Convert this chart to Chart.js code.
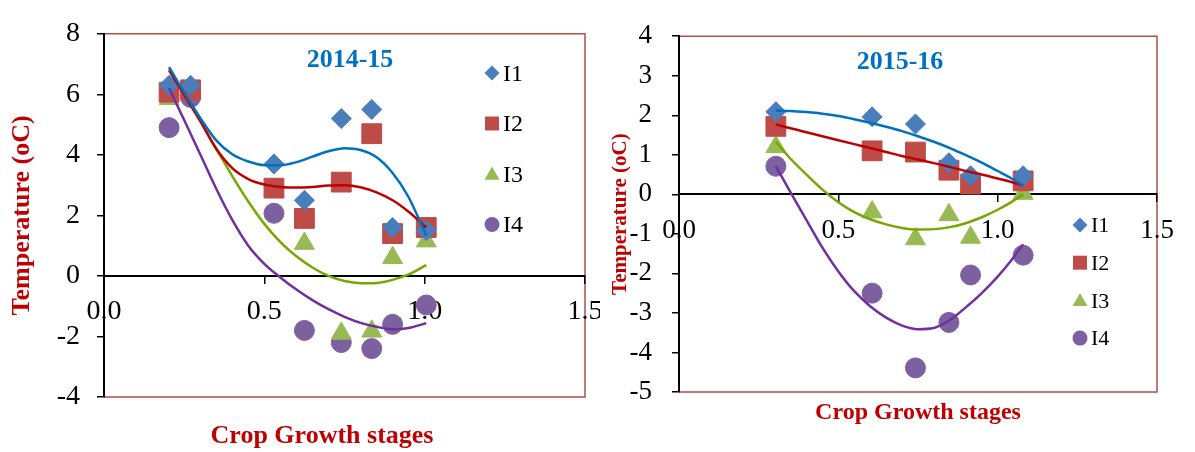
<!DOCTYPE html>
<html>
<head>
<meta charset="utf-8">
<script src="https://cdn.jsdelivr.net/npm/chart.js@4.4.1/dist/chart.umd.min.js"></script>
<style>
  body { margin: 0; background: #fff; }
  .box { position: absolute; top: 0; }
</style>
</head>
<body>
<div class="box" style="left:0"><canvas id="c1" width="600" height="452"></canvas></div>
<div class="box" style="left:600px"><canvas id="c2" width="595" height="452"></canvas></div>
<script>
const seriesNames = ['I1', 'I2', 'I3', 'I4'];

// 2014-15 : observed points
const stages1415 = [0.203, 0.27, 0.53, 0.625, 0.74, 0.835, 0.90, 1.005];
const i1_1415 = [6.3, 6.3, 3.7, 2.5, 5.2, 5.5, 1.6, 1.5];
const i2_1415 = [6.07, 6.15, 2.9, 1.9, 3.1, 4.7, 1.4, 1.6];
const i3_1415 = [5.85, 6.1, 2.85, 1.07, -1.9, -1.83, 0.6, 1.15];
const i4_1415 = [4.9, 5.9, 2.07, -1.8, -2.2, -2.4, -1.6, -0.96];

// 2014-15 : trend lines
const trendX1415 = [0.203, 0.25, 0.3, 0.35, 0.4, 0.45, 0.5, 0.55, 0.6, 0.65, 0.7, 0.75, 0.8, 0.85, 0.9, 0.95, 1.005];
const fit1_1415 = [6.9, 6.06, 5.22, 4.48, 4.02, 3.78, 3.66, 3.66, 3.76, 3.94, 4.12, 4.22, 4.16, 3.92, 3.4, 2.6, 1.33];
const fit2_1415 = [6.79, 5.98, 5.12, 4.2, 3.56, 3.2, 3.02, 2.94, 2.92, 2.94, 2.99, 3.0, 2.93, 2.76, 2.5, 2.12, 1.6];
const fit3_1415 = [6.84, 6.02, 5.12, 4.2, 3.3, 2.46, 1.72, 1.12, 0.65, 0.28, 0.0, -0.17, -0.24, -0.23, -0.13, 0.05, 0.36];
const fit4_1415 = [6.2, 5.15, 4.02, 2.88, 1.85, 1.0, 0.4, -0.05, -0.45, -0.8, -1.1, -1.35, -1.55, -1.68, -1.76, -1.72, -1.56];

// 2015-16 : observed points
const stages1516 = [0.304, 0.606, 0.742, 0.847, 0.915, 1.08];
const i1_1516 = [2.09, 1.96, 1.78, 0.8, 0.47, 0.47];
const i2_1516 = [1.72, 1.1, 1.07, 0.61, 0.26, 0.34];
const i3_1516 = [1.2, -0.45, -1.13, -0.52, -1.09, 0.02];
const i4_1516 = [0.71, -2.5, -4.39, -3.24, -2.04, -1.54];

// 2015-16 : trend lines
const trendX1516 = [0.304, 0.35, 0.4, 0.45, 0.5, 0.55, 0.6, 0.65, 0.7, 0.75, 0.8, 0.85, 0.9, 0.95, 1.0, 1.04, 1.08];
const fit1_1516 = [2.12, 2.11, 2.08, 2.04, 1.98, 1.9, 1.81, 1.71, 1.6, 1.47, 1.33, 1.17, 0.99, 0.8, 0.59, 0.42, 0.22];
const fit2_1516 = [1.77, 1.67, 1.57, 1.47, 1.37, 1.27, 1.17, 1.07, 0.97, 0.88, 0.79, 0.69, 0.59, 0.5, 0.4, 0.32, 0.23];
const fit3_1516 = [1.33, 0.9, 0.5, 0.12, -0.2, -0.45, -0.63, -0.76, -0.85, -0.89, -0.88, -0.83, -0.73, -0.58, -0.39, -0.21, 0.0];
const fit4_1516 = [0.71, 0.05, -0.65, -1.35, -1.95, -2.45, -2.83, -3.12, -3.32, -3.41, -3.38, -3.18, -2.86, -2.5, -2.08, -1.7, -1.26];

const serif = "'Liberation Serif', 'Times New Roman', serif";
const markColors = ['#4A7EBB', '#BE4B48', '#98B954', '#7D60A0'];
const lineColors = ['#0070C0', '#C00000', '#77A800', '#7030A0'];
const styles = ['rectRot', 'rect', 'triangle', 'circle'];
const radii = [10, 14, 11.5, 10];

function buildDatasets(xs, ys, fitX, fits) {
  const ds = [];
  fits.forEach((f, k) => ds.push({
    label: seriesNames[k] + ' trend',
    data: fitX.map((x, i) => ({ x: x, y: f[i] })),
    showLine: true, borderColor: lineColors[k], borderWidth: 2.5,
    pointRadius: 0, cubicInterpolationMode: 'monotone', fill: false, order: 0
  }));
  ys.forEach((y, k) => ds.push({
    label: seriesNames[k],
    data: xs.map((x, i) => ({ x: x, y: y[i] })),
    showLine: false, pointStyle: styles[k], pointRadius: radii[k],
    backgroundColor: markColors[k], borderColor: markColors[k], pointBorderWidth: 1,
    order: 1
  }));
  return ds;
}

function drawMarker(ctx, style, x, y, s, color) {
  ctx.fillStyle = color;
  ctx.beginPath();
  if (style === 'rectRot') {
    ctx.moveTo(x - s, y); ctx.lineTo(x, y - s); ctx.lineTo(x + s, y); ctx.lineTo(x, y + s);
  } else if (style === 'rect') {
    ctx.rect(x - s * 0.93, y - s * 0.93, s * 1.86, s * 1.86);
  } else if (style === 'triangle') {
    ctx.moveTo(x, y - s); ctx.lineTo(x + s, y + s * 0.75); ctx.lineTo(x - s, y + s * 0.75);
  } else {
    ctx.arc(x, y, s, 0, Math.PI * 2);
  }
  ctx.closePath();
  ctx.fill();
}

// plot frame, year label, x-axis title and the inside legend
const decor = {
  id: 'decor',
  beforeDraw(chart, args, o) {
    const { ctx, chartArea: a } = chart;
    ctx.save();
    ctx.strokeStyle = '#B04E4B';
    ctx.lineWidth = 1.5;
    ctx.beginPath();
    ctx.moveTo(a.left, a.top);
    ctx.lineTo(a.right, a.top);
    ctx.lineTo(a.right, a.bottom);
    ctx.lineTo(a.left, a.bottom);
    ctx.stroke();
    ctx.restore();
  },
  afterDraw(chart, args, o) {
    const ctx = chart.ctx;
    ctx.save();
    ctx.textAlign = 'center';
    ctx.textBaseline = 'alphabetic';
    ctx.fillStyle = '#0070C0';
    ctx.font = 'bold 26px ' + serif;
    ctx.fillText(o.year, o.yearX, o.yearY);
    ctx.fillStyle = '#C00000';
    ctx.font = 'bold ' + o.xTitleSize + 'px ' + serif;
    ctx.fillText('Crop Growth stages', o.xTitleX, o.xTitleY);

    ctx.textAlign = 'left';
    ctx.font = o.legSize + 'px ' + serif;
    let row = 0;
    chart.data.datasets.forEach(d => {
      if (d.showLine) return;
      const y = o.legY + row * o.legGap;
      drawMarker(ctx, d.pointStyle, o.legX, y, 7.5, d.backgroundColor);
      ctx.fillStyle = '#000';
      ctx.fillText(d.label, o.legX + 11, y + o.legSize * 0.33);
      row++;
    });
    ctx.restore();
  }
};

function makeChart(id, cfg) {
  return new Chart(document.getElementById(id), {
    type: 'scatter',
    data: { datasets: cfg.datasets },
    plugins: [decor],
    options: {
      responsive: false,
      animation: false,
      layout: { padding: cfg.padding },
      plugins: {
        legend: { display: false },
        tooltip: { enabled: false },
        decor: cfg.decor
      },
      scales: {
        x: {
          type: 'linear', min: 0, max: 1.5, position: { y: 0 },
          ticks: {
            stepSize: 0.5, autoSkip: false, maxRotation: 0,
            callback: v => v.toFixed(1),
            color: '#000', padding: cfg.xPad,
            font: { family: serif, size: cfg.tickSize }
          },
          grid: { drawOnChartArea: false, color: '#000', tickLength: 7, lineWidth: 1.5 },
          border: { color: '#000', width: 2 },
          afterFit: s => { s.paddingLeft = 0; s.paddingRight = 0; }
        },
        y: {
          min: cfg.yMin, max: cfg.yMax,
          ticks: {
            stepSize: cfg.yStep, color: '#000', padding: cfg.yPad,
            font: { family: serif, size: cfg.tickSize }
          },
          grid: { drawOnChartArea: false, color: '#000', tickLength: 7, lineWidth: 1.5 },
          border: { color: '#000', width: 2 },
          title: {
            display: true, text: 'Temperature (oC)', color: '#C00000',
            font: { family: serif, size: cfg.yTitleSize, weight: 'bold' },
            padding: { top: cfg.yTitlePad, bottom: 0 }
          },
          afterFit: s => { s.width = cfg.yWidth; }
        }
      }
    }
  });
}

makeChart('c1', {
  datasets: buildDatasets(stages1415, [i1_1415, i2_1415, i3_1415, i4_1415], trendX1415,
    [fit1_1415, fit2_1415, fit3_1415, fit4_1415]),
  padding: { left: 0, top: 20, right: 9, bottom: 55 },
  yMin: -4, yMax: 8, yStep: 2, yWidth: 104, yPad: 17,
  tickSize: 28, xPad: 12, yTitleSize: 26, yTitlePad: 7,
  decor: {
    year: '2014-15', yearX: 350, yearY: 67,
    xTitleX: 322, xTitleY: 443, xTitleSize: 26,
    legX: 492, legY: 73, legGap: 50.5, legSize: 24
  }
});

makeChart('c2', {
  datasets: buildDatasets(stages1516, [i1_1516, i2_1516, i3_1516, i4_1516], trendX1516,
    [fit1_1516, fit2_1516, fit3_1516, fit4_1516]),
  padding: { left: 0, top: 27, right: 38, bottom: 60 },
  yMin: -5, yMax: 4, yStep: 1, yWidth: 79, yPad: 20,
  tickSize: 27, xPad: 13, yTitleSize: 21, yTitlePad: 8,
  decor: {
    year: '2015-16', yearX: 300, yearY: 69,
    xTitleX: 318, xTitleY: 419, xTitleSize: 24,
    legX: 480, legY: 225, legGap: 37.7, legSize: 22
  }
});
</script>
</body>
</html>
